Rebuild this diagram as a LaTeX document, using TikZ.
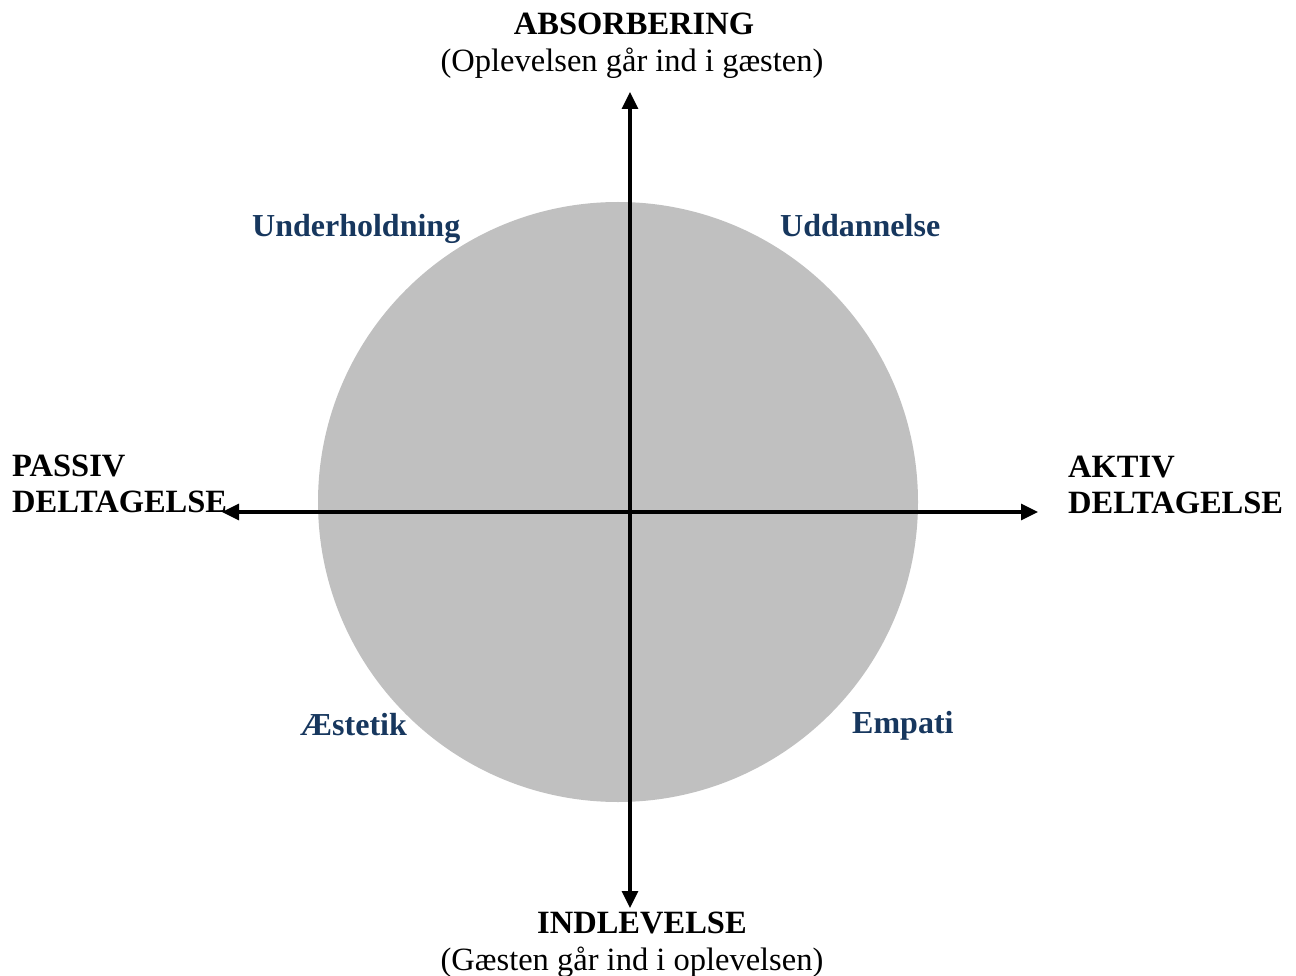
\documentclass[tikz,border=0pt]{standalone}
\usepackage{fontspec}
\setmainfont{Liberation Serif}
\usetikzlibrary{arrows.meta}
\definecolor{lblblue}{RGB}{23,55,94}
\definecolor{disc}{RGB}{192,192,192}
\begin{document}
\begin{tikzpicture}[x=1pt,y=-1pt,
  axis/.style={line width=3.2pt,-{Triangle[length=17pt,width=16pt]}},
  quad/.style={font=\fontsize{32}{36}\selectfont\bfseries,text=lblblue,inner sep=0pt,anchor=base west},
  pole/.style={font=\fontsize{32.5}{37}\selectfont,inner sep=0pt,anchor=base},
  side/.style={font=\fontsize{32.5}{37}\selectfont\bfseries,inner sep=0pt,anchor=base west}]
\useasboundingbox (0,0) rectangle (1296,976);
\fill[disc] (618,502) circle (300pt);
\coordinate (c) at (630,512);
\coordinate (top) at (630,92);
\coordinate (bot) at (630,908);
\coordinate (lft) at (222,512);
\coordinate (rgt) at (1038,512);
\draw[axis] (c) -- (top);
\draw[axis] (c) -- (bot);
\draw[axis] (c) -- (lft);
\draw[axis] (c) -- (rgt);
\node[pole] (abs) at (634,35) {\textbf{ABSORBERING}};
\node[pole] (absb) at (632,72) {(Oplevelsen går ind i gæsten)};
\node[pole] (ind) at (642,933) {\textbf{INDLEVELSE}};
\node[pole] (indb) at (632,970) {(Gæsten går ind i oplevelsen)};
\node[side] (pas) at (12,476) {PASSIV};
\node[side] (pasb) at (12,512) {DELTAGELSE};
\node[side] (akt) at (1068,477) {AKTIV};
\node[side] (aktb) at (1068,513) {DELTAGELSE};
\node[quad] (und) at (252,237) {Underholdning};
\node[quad] (udd) at (780,237) {Uddannelse};
\node[quad] (aes) at (300,735) {Æstetik};
\node[quad] (emp) at (852,733) {Empati};
\end{tikzpicture}
\end{document}
